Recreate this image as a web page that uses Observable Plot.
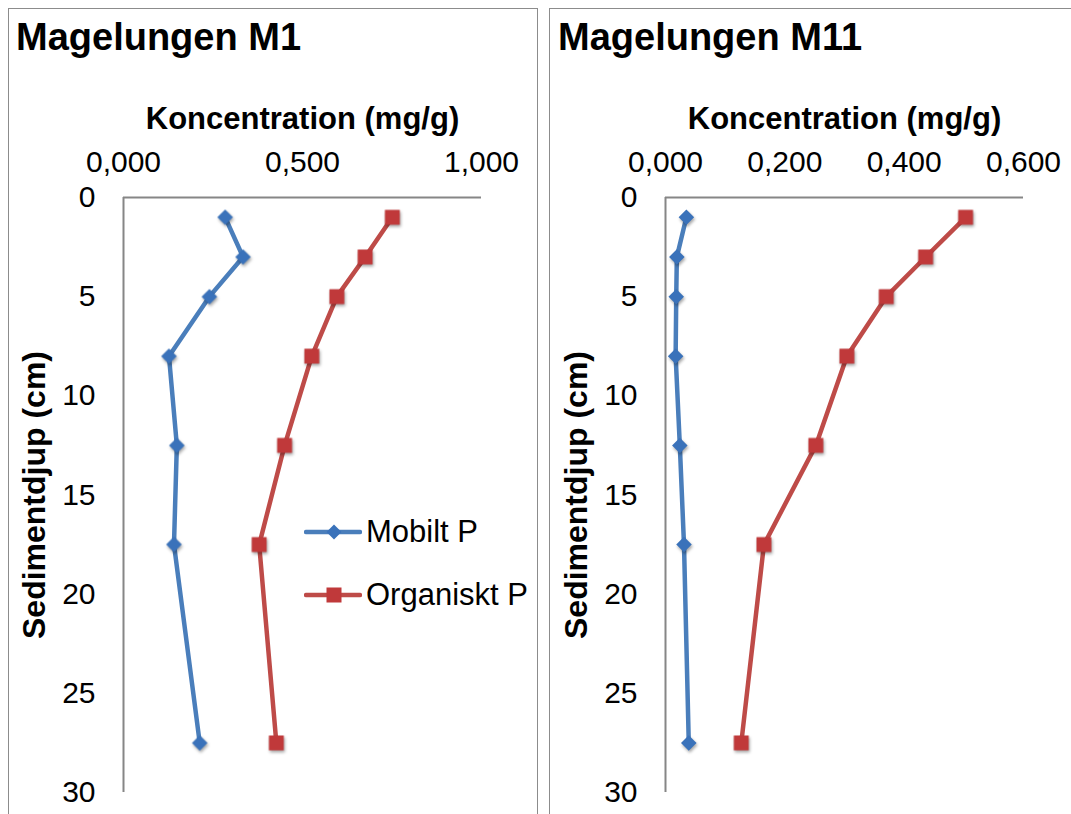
<!DOCTYPE html>
<html>
<head>
<meta charset="utf-8">
<script src="https://cdn.jsdelivr.net/npm/d3@7"></script>
<script src="https://cdn.jsdelivr.net/npm/@observablehq/plot@0.6"></script>
<style>
  html, body { margin: 0; padding: 0; background: #fff; }
  body { width: 1071px; height: 814px; overflow: hidden; position: relative; font-family: "Liberation Sans", Arial, sans-serif; color: #000; }
  .panel { position: absolute; top: 8px; height: 830px; border: 1.5px solid #8c8c8c; border-bottom: none; box-sizing: border-box; }
  .title { position: absolute; font-weight: bold; font-size: 38px; line-height: 38px; white-space: nowrap; }
  .chart { position: absolute; top: 8px; }
  .chart svg { overflow: visible; }
  .chart g[aria-label="x-axis label"] text { font-weight: bold; font-size: 31px; }
  .chart g[aria-label="y-axis label"] text { font-weight: bold; font-size: 32px; }
  .chart g[aria-label="dot"] { filter: drop-shadow(1px 2px 1.5px rgba(0,0,0,0.35)); }
  .legend-row { position: absolute; height: 40px; display: flex; align-items: center; font-size: 31px; white-space: nowrap; }
  .legend-row svg { margin-right: 4px; }
</style>
</head>
<body>
<div class="panel" style="left:8px;width:530px;"></div>
<div class="panel" style="left:549px;width:540px;"></div>
<div id="chartLeft" class="chart" style="left:8px;"></div>
<div id="chartRight" class="chart" style="left:549px;"></div>
<div id="overlay"></div>
<script>
// ---- data ----
const seriesNames = ["Mobilt P", "Organiskt P"];
const seriesColors = ["#4a7ebb", "#be4b48"];
const markerColors = ["#3a72ba", "#c0393a"];
const titles = ["Magelungen M1", "Magelungen M11"];
const xLabel = "Koncentration (mg/g)";
const yLabel = "Sedimentdjup (cm)";
const depths = [1, 3, 5, 8, 12.5, 17.5, 27.5];
const m1Mobilt = [0.284, 0.334, 0.240, 0.127, 0.149, 0.141, 0.213];
const m1Organiskt = [0.751, 0.675, 0.596, 0.526, 0.450, 0.379, 0.427];
const m11Mobilt = [0.035, 0.019, 0.018, 0.017, 0.024, 0.031, 0.039];
const m11Organiskt = [0.503, 0.436, 0.370, 0.304, 0.252, 0.165, 0.127];
const xTicksM1 = [0, 0.5, 1];
const xTicksM11 = [0, 0.2, 0.4, 0.6];
const yTicks = [0, 5, 10, 15, 20, 25, 30];

const fmt = d => d3.format(".3f")(d).replace(".", ",");

function makeChart(mob, org, xTicks, width, marginLeft, marginRight) {
  const data = depths.flatMap((d, i) => [
    {serie: seriesNames[0], depth: d, value: mob[i]},
    {serie: seriesNames[1], depth: d, value: org[i]}
  ]);
  return Plot.plot({
    width, height: 806,
    marginLeft, marginRight, marginTop: 189, marginBottom: 22,
    style: {fontFamily: "Liberation Sans, Arial, sans-serif", fontSize: "30px", color: "#000", background: "transparent", overflow: "visible"},
    x: {domain: [xTicks[0], xTicks[xTicks.length - 1]]},
    y: {domain: [yTicks[0], yTicks[yTicks.length - 1]], reverse: true},
    color: {domain: seriesNames, range: seriesColors},
    marks: [
      Plot.ruleY([yTicks[0]], {stroke: "#868686", strokeWidth: 2}),
      Plot.ruleX([xTicks[0]], {stroke: "#868686", strokeWidth: 2}),
      Plot.axisX({anchor: "top", ticks: xTicks, tickSize: 0, tickPadding: 26, tickFormat: fmt,
        label: xLabel, labelAnchor: "center", labelOffset: 91, labelArrow: "none"}),
      Plot.axisY({anchor: "left", ticks: yTicks, tickSize: 0, tickPadding: 28, tickFormat: d => String(d),
        label: yLabel, labelAnchor: "center", labelOffset: 101, labelArrow: "none"}),
      Plot.line(data, {x: "value", y: "depth", z: "serie", stroke: "serie", strokeWidth: 4.5}),
      Plot.dot(data.filter(d => d.serie === seriesNames[0]), {x: "value", y: "depth", symbol: "diamond2", r: 7, fill: markerColors[0], stroke: "none"}),
      Plot.dot(data.filter(d => d.serie === seriesNames[1]), {x: "value", y: "depth", symbol: "square", r: 8.4, fill: markerColors[1], stroke: "none"})
    ]
  });
}

document.getElementById("chartLeft").appendChild(makeChart(m1Mobilt, m1Organiskt, xTicksM1, 530, 115, 57));
document.getElementById("chartRight").appendChild(makeChart(m11Mobilt, m11Organiskt, xTicksM11, 522, 116, 48));

// titles
const overlay = document.getElementById("overlay");
[[16, titles[0]], [558, titles[1]]].forEach(([x, t]) => {
  const el = document.createElement("div");
  el.className = "title";
  el.style.left = x + "px";
  el.style.top = "18px";
  el.textContent = t;
  overlay.appendChild(el);
});

// legend
[[532, 0, "diamond"], [595, 1, "square"]].forEach(([cy, i, shape]) => {
  const row = document.createElement("div");
  row.className = "legend-row";
  row.style.left = "304px";
  row.style.top = (cy - 20) + "px";
  const c = seriesColors[i], m = markerColors[i];
  const marker = shape === "diamond"
    ? `<path d="M30 12.5 L37.5 20 L30 27.5 L22.5 20 Z" fill="${m}"/>`
    : `<rect x="22.5" y="12.5" width="15" height="15" fill="${m}"/>`;
  row.innerHTML = `<svg width="58" height="40"><line x1="2" y1="20" x2="56" y2="20" stroke="${c}" stroke-width="4.5" stroke-linecap="round"/>${marker}</svg><span>${seriesNames[i]}</span>`;
  overlay.appendChild(row);
});
</script>
</body>
</html>
